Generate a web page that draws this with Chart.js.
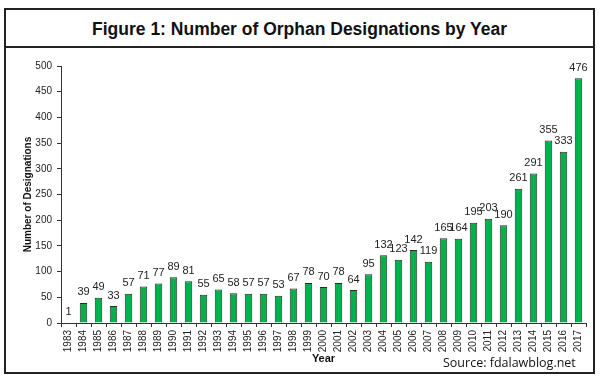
<!DOCTYPE html>
<html>
<head>
<meta charset="utf-8">
<script src="https://cdn.jsdelivr.net/npm/chart.js@4/dist/chart.umd.min.js"></script>
<style>
  html, body { margin: 0; padding: 0; background: #fff; }
  #wrap { position: relative; width: 600px; height: 378px; overflow: hidden; }
  #frame { position: absolute; left: 4px; top: 8px; width: 587px; height: 362px; border: 2px solid #222; }
  #title { position: absolute; left: 0; top: 0; width: 587px; height: 36px; border-bottom: 2px solid #222;
           font-family: "Liberation Sans", Arial, sans-serif; font-weight: bold; font-size: 17.5px;
           line-height: 38px; text-align: center; color: #111; }
  #source { position: absolute; left: 443px; top: 354px; font-family: "Open Sans", sans-serif;
            font-size: 12.5px; color: #111; white-space: nowrap; }
  canvas { position: absolute; left: 0; top: 0; }
</style>
</head>
<body>
<div id="wrap">
  <div id="frame"><div id="title">Figure 1: Number of Orphan Designations by Year</div></div>
  <canvas id="c" width="600" height="378"></canvas>
  <div id="source">Source: fdalawblog.net</div>
</div>
<script>
const years = ["1983","1984","1985","1986","1987","1988","1989","1990","1991","1992","1993","1994","1995","1996","1997","1998","1999","2000","2001","2002","2003","2004","2005","2006","2007","2008","2009","2010","2011","2012","2013","2014","2015","2016","2017"];
const designations = [1,39,49,33,57,71,77,89,81,55,65,58,57,57,53,67,78,70,78,64,95,132,123,142,119,165,164,195,203,190,261,291,355,333,476];
const yTicks = [0,50,100,150,200,250,300,350,400,450,500];

const valueLabels = {
  id: 'valueLabels',
  afterDatasetsDraw(chart) {
    const ctx = chart.ctx;
    const meta = chart.getDatasetMeta(0);
    ctx.save();
    ctx.font = '11px "Liberation Sans", Arial, sans-serif';
    ctx.fillStyle = '#222';
    ctx.textAlign = 'center';
    ctx.textBaseline = 'bottom';
    meta.data.forEach((bar, i) => {
      ctx.fillText(String(designations[i]), bar.x, bar.y - 5);
    });
    ctx.restore();
  }
};

new Chart(document.getElementById('c'), {
  type: 'bar',
  data: {
    labels: years,
    datasets: [{
      data: designations,
      backgroundColor: '#00b24c',
      borderColor: '#2a2a2a',
      borderWidth: 1,
      barPercentage: 0.5,
      categoryPercentage: 1.0
    }]
  },
  options: {
    responsive: false,
    animation: false,
    devicePixelRatio: 1,
    layout: { padding: { left: 22, top: 66, right: 14, bottom: 12 } },
    plugins: { legend: { display: false }, tooltip: { enabled: false } },
    scales: {
      x: {
        afterFit(s) { s.height = 43; },
        grid: { drawOnChartArea: false, drawTicks: true, tickLength: 4, color: '#333', offset: true },
        border: { display: true, color: '#333', width: 1 },
        ticks: { minRotation: 90, maxRotation: 90, autoSkip: false, padding: 3,
                 font: { family: '"Liberation Sans", Arial, sans-serif', size: 10 }, color: '#222' },
        title: { display: true, text: 'Year', padding: { top: 0, bottom: 0 },
                 font: { family: '"Liberation Sans", Arial, sans-serif', size: 11, weight: 'bold' }, color: '#111' }
      },
      y: {
        min: 0, max: 500,
        afterFit(s) { s.width = 39; },
        afterBuildTicks(s) { s.ticks = yTicks.map(v => ({ value: v })); },
        grid: { drawOnChartArea: false, drawTicks: true, tickLength: 4, color: '#333' },
        border: { display: true, color: '#333', width: 1 },
        ticks: { padding: 5, font: { family: '"Liberation Sans", Arial, sans-serif', size: 10 }, color: '#222' },
        title: { display: true, text: 'Number of Designations', padding: { top: 0, bottom: 0 },
                 font: { family: '"Liberation Sans", Arial, sans-serif', size: 10, weight: 'bold' }, color: '#111' }
      }
    }
  },
  plugins: [valueLabels]
});
</script>
</body>
</html>
